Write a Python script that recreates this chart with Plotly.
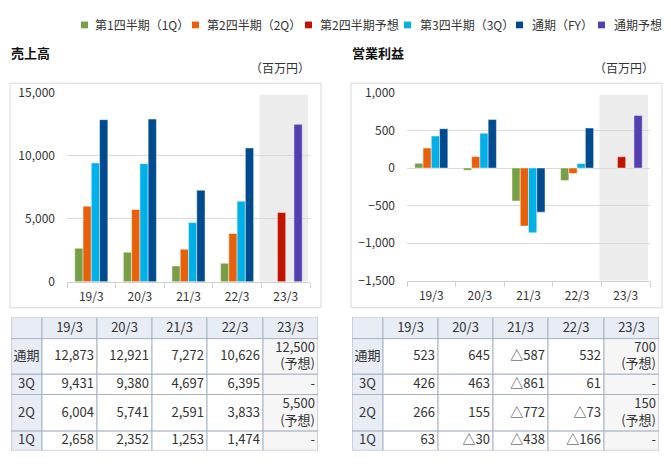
import plotly.graph_objects as go

W, H = 671, 468
def px(x): return x / W
def py(y): return 1 - y / H

categories = ["19/3", "20/3", "21/3", "22/3", "23/3"]

# 売上高 (百万円)
sales_1q = [2658, 2352, 1253, 1474, None]
sales_2q = [6004, 5741, 2591, 3833, None]
sales_2q_fc = [None, None, None, None, 5500]
sales_3q = [9431, 9380, 4697, 6395, None]
sales_fy = [12873, 12921, 7272, 10626, None]
sales_fy_fc = [None, None, None, None, 12500]

# 営業利益 (百万円)
op_1q = [63, -30, -438, -166, None]
op_2q = [266, 155, -772, -73, None]
op_2q_fc = [None, None, None, None, 150]
op_3q = [426, 463, -861, 61, None]
op_fy = [523, 645, -587, 532, None]
op_fy_fc = [None, None, None, None, 700]

legend_names = ["第1四半期（1Q）", "第2四半期（2Q）", "第2四半期予想", "第3四半期（3Q）", "通期（FY）", "通期予想"]
row_labels = ["通期", "3Q", "2Q", "1Q"]
forecast_label = "(予想)"

colors = ["#77A046", "#E8600A", "#C01400", "#00B0E8", "#004A90", "#533FAF"]
offsetgroups = ["1", "2", "2", "3", "4", "4"]

FONT = "Noto Sans CJK JP, Liberation Sans, sans-serif"
TXT = "#333333"

fig = go.Figure()

def add_bars(series, xa, ya):
    for vals, name, col, og in zip(series, legend_names, colors, offsetgroups):
        fig.add_trace(go.Bar(
            x=categories, y=vals, name=name,
            marker=dict(color=col, line=dict(color="rgba(255,255,255,0.45)", width=1)),
            offsetgroup=og, xaxis=xa, yaxis=ya, showlegend=False, hoverinfo="skip"))

add_bars([sales_1q, sales_2q, sales_2q_fc, sales_3q, sales_fy, sales_fy_fc], "x", "y")
add_bars([op_1q, op_2q, op_2q_fc, op_3q, op_fy, op_fy_fc], "x2", "y2")

# ---- tables (drawn on their own axes, 1 unit = 1 px) ----
def fmt(v):
    if v is None:
        return ["-"]
    if v < 0:
        return ["△" + f"{-v:,}"]
    return [f"{v:,}"]

def fmt_fc(v):
    return [f"{v:,}", forecast_label]

col_w = [31, 55, 55, 55, 56, 55]
row_h = [22, 37, 21, 38, 20]
col_edges = [sum(col_w[:i]) for i in range(len(col_w) + 1)]
row_edges = [sum(row_h[:i]) for i in range(len(row_h) + 1)]
HDR_FILL = "#E8ECF4"
BORDER = "#A9B3C2"
LINE_H = 17

shapes = []

def build_table(fy, q3, q2, q1, q2fc, fyfc, xa, ya):
    body = []
    for vals, fc in [(fy, fyfc), (q3, None), (q2, q2fc), (q1, None)]:
        r = [fmt(v) for v in vals[:4]]
        r.append(fmt_fc(fc[4]) if fc is not None else ["-"])
        body.append(r)
    grid = [[[""]] + [[c] for c in categories]] + [[[lab]] + r for lab, r in zip(row_labels, body)]
    tx, ty, tt, tp = [], [], [], []
    for ri, row in enumerate(grid):
        for ci, lines in enumerate(row):
            x0, x1 = col_edges[ci], col_edges[ci + 1]
            y0, y1 = row_edges[ri], row_edges[ri + 1]
            if ri == 0 or ci == 0:
                fill = HDR_FILL
            elif ci == len(row) - 1:
                fill = "#F6F6F6"
            else:
                fill = "#FFFFFF"
            shapes.append(dict(type="rect", xref=xa, yref=ya, x0=x0, x1=x1, y0=y0, y1=y1,
                               fillcolor=fill, line=dict(color=BORDER, width=1), layer="below"))
            n = len(lines)
            for li, val in enumerate(lines):
                if val == "":
                    continue
                if ri == 0 or ci == 0:
                    tx.append((x0 + x1) / 2); tp.append("middle center")
                else:
                    tx.append(x1 - 3); tp.append("middle left")
                ty.append((y0 + y1) / 2 + 0.5 + (li - (n - 1) / 2) * LINE_H)
                tt.append(val)
    fig.add_trace(go.Scatter(x=tx, y=ty, text=tt, mode="text", textposition=tp,
                             textfont=dict(family=FONT, size=13, color=TXT),
                             xaxis=xa, yaxis=ya, showlegend=False, hoverinfo="skip"))

build_table(sales_fy, sales_3q, sales_2q, sales_1q, sales_2q_fc, sales_fy_fc, "x3", "y3")
build_table(op_fy, op_3q, op_2q, op_1q, op_2q_fc, op_fy_fc, "x4", "y4")

# ---- axes ----
xcommon = dict(type="category", showline=True, linecolor="#D0D0D0", ticks="outside", tickson="boundaries",
               ticklen=5, tickcolor="#D0D0D0", showgrid=False, ticklabelstandoff=4,
               tickfont=dict(family=FONT, size=12, color=TXT), fixedrange=True)
ycommon = dict(showgrid=True, gridcolor="#D9D9D9", zeroline=False, tickformat=",d", ticklabelstandoff=11,
               tickfont=dict(family=FONT, size=12, color=TXT), fixedrange=True)
tcommon = dict(visible=False, fixedrange=True, showgrid=False, zeroline=False)

fig.update_layout(
    width=W, height=H, margin=dict(l=0, r=0, t=0, b=0), paper_bgcolor="white", plot_bgcolor="rgba(0,0,0,0)",
    barmode="group", bargap=0.32, bargroupgap=0, showlegend=False,
    font=dict(family=FONT, color=TXT),
    xaxis=dict(domain=[px(67), px(310)], anchor="y", **xcommon),
    yaxis=dict(domain=[py(282), py(86)], anchor="x", range=[0, 15000], dtick=5000, **ycommon),
    xaxis2=dict(domain=[px(407), px(650)], anchor="y2", **xcommon),
    yaxis2=dict(domain=[py(281), py(86)], anchor="x2", range=[-1500, 1000], dtick=500, **ycommon),
    xaxis3=dict(domain=[px(11), px(11 + col_edges[-1])], anchor="y3", range=[0, col_edges[-1]], **tcommon),
    yaxis3=dict(domain=[py(319 + row_edges[-1]), py(319)], anchor="x3", range=[row_edges[-1], 0], **tcommon),
    xaxis4=dict(domain=[px(352), px(352 + col_edges[-1])], anchor="y4", range=[0, col_edges[-1]], **tcommon),
    yaxis4=dict(domain=[py(319 + row_edges[-1]), py(319)], anchor="x4", range=[row_edges[-1], 0], **tcommon),
)

# forecast shading
shapes.append(dict(type="rect", xref="x", yref="y", x0=3.46, x1=4.46, y0=0, y1=14850,
                   fillcolor="#ECECEC", line=dict(width=0), layer="below"))
shapes.append(dict(type="rect", xref="x2", yref="y2", x0=3.46, x1=4.46, y0=-1500, y1=975,
                   fillcolor="#ECECEC", line=dict(width=0), layer="below"))
# chart frames
for x0, x1 in [(10, 321), (351, 662)]:
    shapes.append(dict(type="rect", xref="paper", yref="paper", x0=px(x0), x1=px(x1), y0=py(309), y1=py(76),
                       line=dict(color="#D8D8D8", width=1), fillcolor="rgba(0,0,0,0)", layer="below"))

# custom legend
leg_marker_x = [81, 192, 305, 404, 516, 598]
leg_text_x = [93, 205, 318, 418, 530, 612]
annotations = []
for mx, tx, name, col in zip(leg_marker_x, leg_text_x, legend_names, colors):
    shapes.append(dict(type="rect", xref="paper", yref="paper", x0=px(mx), x1=px(mx + 7), y0=py(19), y1=py(12),
                       fillcolor=col, line=dict(width=0)))
    annotations.append(dict(x=px(tx), y=py(15), xref="paper", yref="paper", xanchor="left", yanchor="middle",
                            text=name, showarrow=False, font=dict(family=FONT, size=12, color=TXT)))

# titles
annotations.append(dict(x=px(9), y=py(44), xref="paper", yref="paper", xanchor="left", yanchor="middle",
                        text="<b>売上高</b>", showarrow=False, font=dict(family=FONT, size=13, color="#111111")))
annotations.append(dict(x=px(350), y=py(44), xref="paper", yref="paper", xanchor="left", yanchor="middle",
                        text="<b>営業利益</b>", showarrow=False, font=dict(family=FONT, size=13, color="#111111")))
for rx in [312, 656]:
    annotations.append(dict(x=px(rx), y=py(60), xref="paper", yref="paper", xanchor="right", yanchor="middle",
                            text="（百万円）", showarrow=False, font=dict(family=FONT, size=12, color=TXT)))

fig.update_layout(shapes=shapes, annotations=annotations)

fig.write_html("out.html")
